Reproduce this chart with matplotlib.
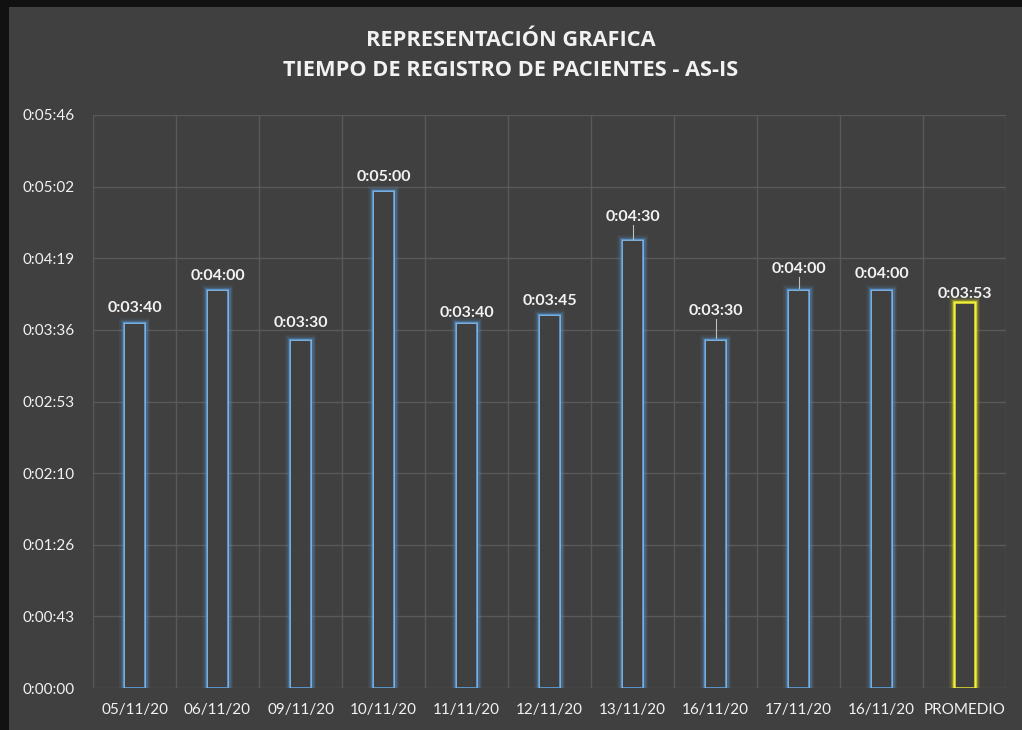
import matplotlib
matplotlib.use("Agg")
import matplotlib.pyplot as plt
from matplotlib.patches import Rectangle
from matplotlib.ticker import FixedLocator, FuncFormatter

categories = ["05/11/20", "06/11/20", "09/11/20", "10/11/20", "11/11/20", "12/11/20",
              "13/11/20", "16/11/20", "17/11/20", "16/11/20", "PROMEDIO"]
# values in seconds
values = [220, 240, 210, 300, 220, 225, 270, 210, 240, 240, 233]
value_labels = ["0:03:40", "0:04:00", "0:03:30", "0:05:00", "0:03:40", "0:03:45",
                "0:04:30", "0:03:30", "0:04:00", "0:04:00", "0:03:53"]
# label extra offsets (seconds above bar top) and leader-line flags
label_offsets = [5, 4, 6, 4, 2, 4, 10, 13, 8.5, 5.5, 0.5]
leaders = [False, False, False, False, False, False, True, True, True, False, False]

y_max = 345.6
y_ticks = [i * 43.2 for i in range(9)]

BG = "#404040"
GRID = "#595959"
BLUE = "#5b9bd5"
YELLOW = "#e8e82a"
TXT = "#f2f2f2"

fig = plt.figure(figsize=(10.22, 7.30), dpi=100)
fig.patch.set_facecolor(BG)
# dark border strips (top and left)
fig.patches.append(Rectangle((0, 1 - 7 / 730), 1, 7 / 730, transform=fig.transFigure,
                             facecolor="#111111", edgecolor="none", zorder=5))
fig.patches.append(Rectangle((0, 0), 9 / 1022, 1, transform=fig.transFigure,
                             facecolor="#111111", edgecolor="none", zorder=5))

ax = fig.add_axes([93 / 1022, 1 - 688 / 730, (1006 - 93) / 1022, (688 - 115) / 730])
ax.set_facecolor(BG)
ax.set_xlim(-0.5, len(categories) - 0.5)
ax.set_ylim(0, y_max)

for s in ax.spines.values():
    s.set_visible(False)

def fmt(v, pos):
    s = int(round(v))
    return f"{s // 3600}:{(s % 3600) // 60:02d}:{s % 60:02d}"
ax.yaxis.set_major_locator(FixedLocator(y_ticks))
ax.yaxis.set_major_formatter(FuncFormatter(fmt))
ax.grid(False)
for t in y_ticks:
    ax.axhline(t, color=GRID, lw=1.0, zorder=1)
for b in [i + 0.5 for i in range(-1, len(categories))]:
    ax.axvline(b, color=GRID, lw=1.0, zorder=1)

ax.set_xticks(range(len(categories)))
ax.set_xticklabels(categories)
ax.tick_params(axis="both", length=0, colors=TXT, labelsize=11)
ax.tick_params(axis="y", pad=13)
for lab in ax.get_yticklabels():
    lab.set_fontfamily("Lato")
for lab in ax.get_xticklabels():
    lab.set_fontfamily("Lato")
ax.tick_params(axis="x", pad=11)

width = 0.26
for i, (v, lbl) in enumerate(zip(values, value_labels)):
    last = i == len(values) - 1
    col = YELLOW if last else BLUE
    for lw, a in [(7, 0.10), (5, 0.15), (3.5, 0.25)]:
        ax.bar(i, v, width=width, facecolor="none", edgecolor=col, linewidth=lw,
               alpha=a, zorder=2)
    ax.bar(i, v, width=width, facecolor=BG, edgecolor=col,
           linewidth=1.8 if last else 1.3, zorder=3)
    ax.bar(i, v, width=width, facecolor="none",
           edgecolor="#ffff80" if last else "#cfe3f5",
           linewidth=0.4, zorder=4, alpha=0.6)
    off = label_offsets[i]
    ax.text(i, v + off, lbl, ha="center", va="bottom", color=TXT, fontsize=11.5,
            fontweight="bold", family="Lato", zorder=5)
    if leaders[i]:
        ax.plot([i, i], [v + 1, v + off - 0.5], color="#bfbfbf", lw=0.8, zorder=4)

fig.text(0.5, 1 - 40 / 730, "REPRESENTACIÓN GRAFICA", ha="center", va="center",
         color=TXT, fontsize=15.7, fontweight="bold", family="Open Sans")
fig.text(0.5, 1 - 70 / 730, "TIEMPO DE REGISTRO DE PACIENTES - AS-IS", ha="center",
         va="center", color=TXT, fontsize=15.7, fontweight="bold", family="Open Sans")

fig.savefig("out.png", dpi=100, facecolor=fig.get_facecolor())
